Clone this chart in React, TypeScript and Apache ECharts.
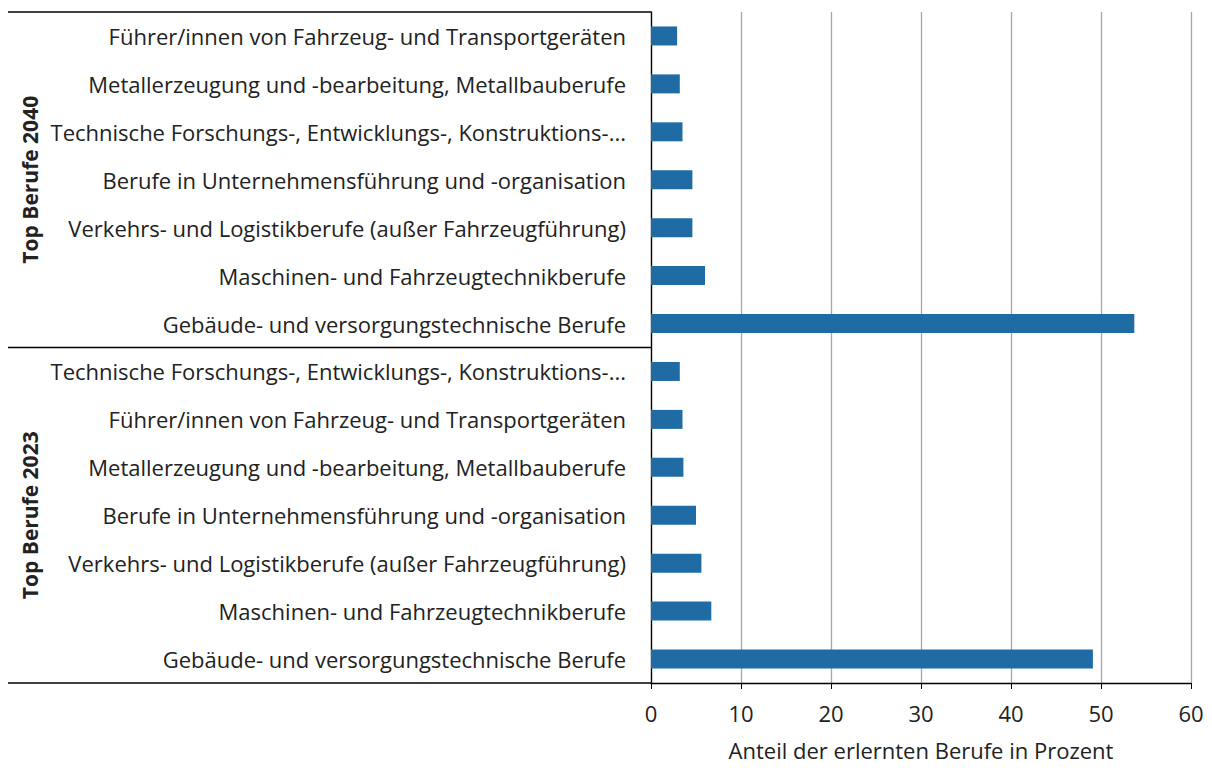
import React, { useEffect, useRef } from "react";
import * as echarts from "echarts";

const categories2040 = [
  "Führer/innen von Fahrzeug- und Transportgeräten",
  "Metallerzeugung und -bearbeitung, Metallbauberufe",
  "Technische Forschungs-, Entwicklungs-, Konstruktions-...",
  "Berufe in Unternehmensführung und -organisation",
  "Verkehrs- und Logistikberufe (außer Fahrzeugführung)",
  "Maschinen- und Fahrzeugtechnikberufe",
  "Gebäude- und versorgungstechnische Berufe",
];
const values2040 = [2.9, 3.2, 3.5, 4.6, 4.6, 6.0, 53.7];

const categories2023 = [
  "Technische Forschungs-, Entwicklungs-, Konstruktions-...",
  "Führer/innen von Fahrzeug- und Transportgeräten",
  "Metallerzeugung und -bearbeitung, Metallbauberufe",
  "Berufe in Unternehmensführung und -organisation",
  "Verkehrs- und Logistikberufe (außer Fahrzeugführung)",
  "Maschinen- und Fahrzeugtechnikberufe",
  "Gebäude- und versorgungstechnische Berufe",
];
const values2023 = [3.2, 3.5, 3.6, 5.0, 5.6, 6.7, 49.1];

const groupLabels = ["Top Berufe 2040", "Top Berufe 2023"];
const xTicks = [0, 10, 20, 30, 40, 50, 60];
const xAxisTitle = "Anteil der erlernten Berufe in Prozent";

const FONT = "Open Sans";

export default function App() {
  const ref = useRef<HTMLDivElement>(null);
  useEffect(() => {
    if (!ref.current) return;
    const chart = echarts.init(ref.current, null, { renderer: "svg" });
    const cats = [...categories2040, ...categories2023];
    const vals = [...values2040, ...values2023];
    const left = 651, right = 1191, top = 12, bottom = 683;
    const band = (bottom - top) / cats.length;
    const sepY = top + band * categories2040.length;
    chart.setOption({
      animation: false,
      grid: { left, top, right: 1212 - right, bottom: 770 - bottom, containLabel: false },
      xAxis: {
        type: "value",
        min: xTicks[0],
        max: xTicks[xTicks.length - 1],
        interval: 10,
        axisLine: { show: true, lineStyle: { color: "#000", width: 1.3 } },
        axisTick: { show: true, length: 6, lineStyle: { color: "#000" } },
        splitLine: { show: true, lineStyle: { color: "#a6a6a6", width: 1.3 } },
        axisLabel: { color: "#222", fontFamily: FONT, fontSize: 22, margin: 19 },
        name: xAxisTitle,
        nameLocation: "middle",
        nameGap: 56,
        nameTextStyle: { color: "#222", fontFamily: FONT, fontSize: 22 },
      },
      yAxis: {
        type: "category",
        inverse: true,
        data: cats,
        axisLine: { show: true, lineStyle: { color: "#000", width: 1.3 } },
        axisTick: { show: false },
        axisLabel: { color: "#222", fontFamily: FONT, fontSize: 22, margin: 25 },
      },
      series: [
        {
          type: "bar",
          data: vals,
          barWidth: 19,
          itemStyle: { color: "#1f6ca4" },
        },
      ],
      graphic: [
        { type: "line", shape: { x1: 8, y1: top, x2: left, y2: top }, style: { stroke: "#000", lineWidth: 1.3 } },
        { type: "line", shape: { x1: 8, y1: sepY, x2: left, y2: sepY }, style: { stroke: "#000", lineWidth: 1.3 } },
        { type: "line", shape: { x1: 8, y1: bottom, x2: left, y2: bottom }, style: { stroke: "#000", lineWidth: 1.3 } },
        {
          type: "text",
          x: 30,
          y: (top + sepY) / 2,
          rotation: Math.PI / 2,
          style: { text: groupLabels[0], fontFamily: FONT, fontSize: 21, fontWeight: "bold", fill: "#222", align: "center", verticalAlign: "middle" },
        },
        {
          type: "text",
          x: 30,
          y: (sepY + bottom) / 2,
          rotation: Math.PI / 2,
          style: { text: groupLabels[1], fontFamily: FONT, fontSize: 21, fontWeight: "bold", fill: "#222", align: "center", verticalAlign: "middle" },
        },
      ],
    });
    return () => chart.dispose();
  }, []);
  return <div ref={ref} style={{ width: 1212, height: 770, margin: -8 }} />;
}
